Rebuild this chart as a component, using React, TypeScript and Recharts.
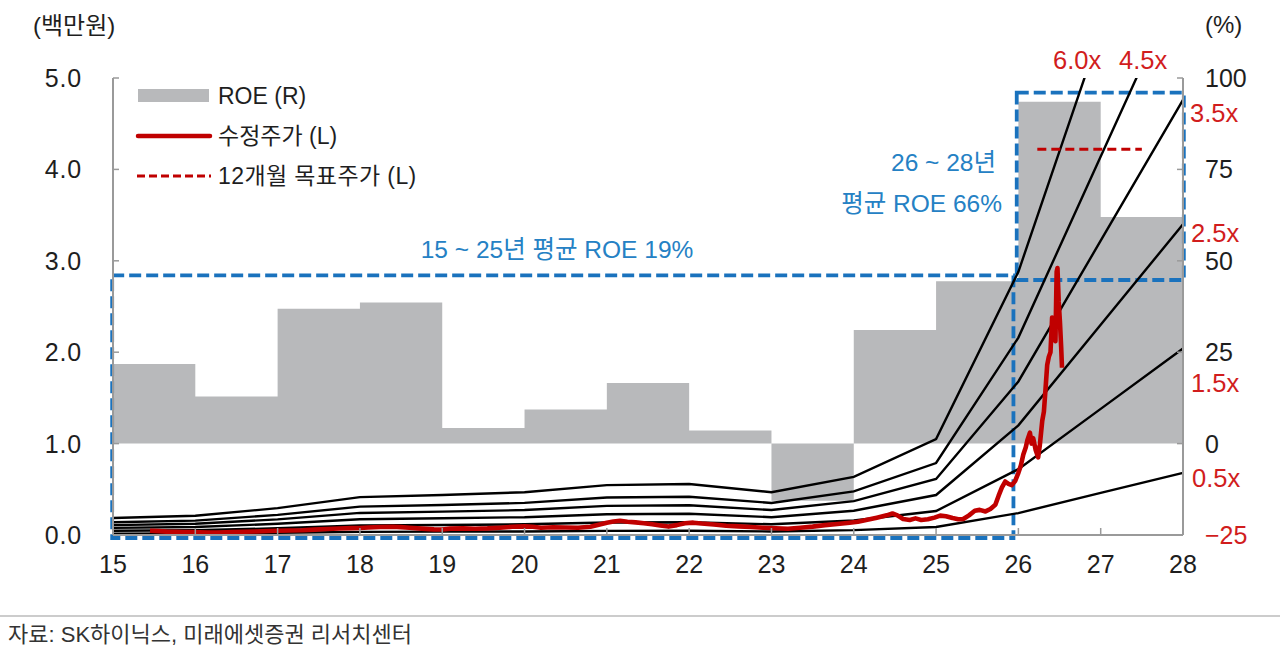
import React from 'react';
import { ComposedChart, Area, Line, XAxis, YAxis, ReferenceArea } from 'recharts';

// ---- data ----
const YEARS = [15, 16, 17, 18, 19, 20, 21, 22, 23, 24, 25, 26, 27, 28];
// ROE (%) per year; the value at 28 closes the 27~28 step
const ROE_PCT = [21.8, 12.9, 36.9, 38.6, 4.3, 9.3, 16.6, 3.6, -15.6, 31.1, 44.4, 93.5, 62.0, 62.0];
// BPS (백만원)
const BPS = [0.031, 0.035, 0.049, 0.069, 0.073, 0.078, 0.091, 0.093, 0.078, 0.106, 0.175, 0.48, 0.92, 1.36];
const PBR_MULTIPLES = [0.5, 1.5, 2.5, 3.5, 4.5, 6.0];
const PBR_LABELS = ['0.5x', '1.5x', '2.5x', '3.5x', '4.5x', '6.0x'];

const PRICE_YEAR = [
  15.45, 15.55, 15.65, 15.75, 15.85, 15.95, 16.05, 16.15, 16.3, 16.45, 16.6, 16.75, 16.9,
  17.0, 17.15, 17.3, 17.45, 17.6, 17.75, 17.9, 18.0, 18.1, 18.25, 18.4, 18.5, 18.6, 18.75, 18.9,
  19.0, 19.1, 19.25, 19.4, 19.55, 19.7, 19.85, 20.0, 20.1, 20.2, 20.35, 20.5, 20.65, 20.8, 20.9,
  21.0, 21.08, 21.16, 21.25, 21.35, 21.45, 21.55, 21.65, 21.75, 21.85, 21.95, 22.05, 22.15, 22.3,
  22.45, 22.6, 22.75, 22.9, 23.05, 23.2, 23.35, 23.5, 23.65, 23.8, 23.95, 24.05, 24.15, 24.28,
  24.4, 24.47, 24.53, 24.6, 24.68, 24.75, 24.82, 24.9, 24.98, 25.05, 25.12, 25.2, 25.27, 25.33,
  25.4, 25.47, 25.53, 25.6, 25.66, 25.72, 25.76, 25.8, 25.84, 25.88, 25.92, 25.96, 26.0, 26.03,
  26.06, 26.09, 26.11, 26.14, 26.16, 26.18, 26.21, 26.24, 26.26, 26.29, 26.31, 26.33, 26.35,
  26.37, 26.39, 26.41, 26.43, 26.45, 26.465, 26.475, 26.49, 26.505, 26.52, 26.53,
];
const PRICE = [
  0.046, 0.042, 0.037, 0.034, 0.032, 0.031, 0.029, 0.027, 0.028, 0.031, 0.036, 0.039, 0.044,
  0.046, 0.049, 0.052, 0.059, 0.066, 0.071, 0.075, 0.077, 0.082, 0.087, 0.09, 0.086, 0.08, 0.07, 0.062,
  0.06, 0.07, 0.072, 0.068, 0.072, 0.08, 0.09, 0.094, 0.09, 0.08, 0.085, 0.082, 0.08, 0.09, 0.112,
  0.135, 0.148, 0.155, 0.145, 0.138, 0.128, 0.118, 0.105, 0.092, 0.108, 0.128, 0.135, 0.125, 0.115,
  0.102, 0.094, 0.088, 0.08, 0.074, 0.068, 0.08, 0.092, 0.108, 0.12, 0.135, 0.145, 0.165, 0.19,
  0.215, 0.235, 0.215, 0.175, 0.165, 0.182, 0.165, 0.172, 0.19, 0.212, 0.205, 0.185, 0.172, 0.175,
  0.215, 0.265, 0.275, 0.258, 0.285, 0.33, 0.43, 0.52, 0.585, 0.56, 0.545, 0.59, 0.68, 0.76,
  0.88, 0.96, 1.04, 1.12, 1.0, 1.06, 0.93, 0.85, 0.98, 1.25, 1.35, 1.6, 1.86,
  1.95, 2.0, 2.38, 2.2, 2.12, 2.88, 2.92, 2.55, 2.33, 2.05, 1.83,
];

const TARGET_YEAR = [26.23, 27.5];
const TARGET = [4.22, 4.22];

const X_TICKS = YEARS;
const LEFT_TICKS = [0, 1, 2, 3, 4, 5];
const RIGHT_TICKS = [-25, 0, 25, 50, 75, 100];

// ---- tables built from the arrays ----
const bandRows = YEARS.map((year, i) => {
  const row: Record<string, number> = { year, roe: ROE_PCT[i] };
  PBR_MULTIPLES.forEach((m, k) => {
    row[`pbr${k}`] = BPS[i] * m;
  });
  return row;
});
const priceRows = PRICE_YEAR.map((year, i) => ({ year, price: PRICE[i] }));
const targetRows = TARGET_YEAR.map((year, i) => ({ year, target: TARGET[i] }));

// ---- styles ----
const FONT = '"Liberation Sans", "Noto Sans CJK KR", sans-serif';
const AXIS_GRAY = '#9a9a9a';
const TEXT = '#1e1e1e';
const RED_LINE = '#c00000';
const RED_TEXT = '#d11d1d';
const BLUE_BOX = '#1a72bd';
const BLUE_TEXT = '#2581c4';
const ROE_GRAY = '#b8b9bb';

const XTick = (props: any) => {
  const { x, y, payload } = props;
  return (
    <g>
      <line x1={x} x2={x} y1={y} y2={y - 7} stroke={AXIS_GRAY} strokeWidth={1.5} />
      <text x={x} y={y + 38} textAnchor="middle" fontSize={25} fill={TEXT} fontFamily={FONT}>
        {payload.value}
      </text>
    </g>
  );
};

const LeftTick = (props: any) => {
  const { x, y, payload } = props;
  return (
    <g>
      <line x1={x} x2={x + 6} y1={y} y2={y} stroke={AXIS_GRAY} strokeWidth={1.5} />
      <text x={x - 31} y={y} dy="0.36em" textAnchor="end" fontSize={25} fill={TEXT} fontFamily={FONT} letterSpacing={0.8}>
        {Number(payload.value).toFixed(1)}
      </text>
    </g>
  );
};

const RightTick = (props: any) => {
  const { x, y, payload } = props;
  const v = Number(payload.value);
  return (
    <g>
      <line x1={x} x2={x - 6} y1={y} y2={y} stroke={AXIS_GRAY} strokeWidth={1.5} />
      <text
        x={x + 22}
        y={y}
        dy="0.36em"
        textAnchor="start"
        fontSize={25}
        fill={v < 0 ? RED_TEXT : TEXT}
        fontFamily={FONT}
      >
        {v < 0 ? `\u2212${Math.abs(v)}` : v}
      </text>
    </g>
  );
};

export default function App() {
  return (
    <div
      style={{
        position: 'absolute',
        left: 0,
        top: 0,
        width: 1280,
        height: 659,
        background: '#fff',
        fontFamily: FONT,
        overflow: 'hidden',
      }}
    >
      <div style={{ position: 'absolute', left: 0, top: 0 }}>
        <ComposedChart
          width={1280}
          height={610}
          data={bandRows}
          margin={{ top: 78, right: 17, bottom: 35, left: 53 }}
        >
          <XAxis
            dataKey="year"
            type="number"
            domain={[15, 28]}
            ticks={X_TICKS}
            interval={0}
            allowDecimals={false}
            height={40}
            axisLine={{ stroke: AXIS_GRAY, strokeWidth: 2 }}
            tickLine={false}
            tickSize={0}
            tickMargin={0}
            tick={<XTick />}
          />
          <YAxis
            yAxisId="left"
            orientation="left"
            domain={[0, 5]}
            ticks={LEFT_TICKS}
            allowDataOverflow
            width={60}
            axisLine={{ stroke: AXIS_GRAY, strokeWidth: 2 }}
            tickLine={false}
            tickSize={0}
            tickMargin={0}
            tick={<LeftTick />}
          />
          <YAxis
            yAxisId="right"
            orientation="right"
            domain={[-25, 100]}
            ticks={RIGHT_TICKS}
            allowDataOverflow
            width={80}
            axisLine={{ stroke: AXIS_GRAY, strokeWidth: 2 }}
            tickLine={false}
            tickSize={0}
            tickMargin={0}
            tick={<RightTick />}
          />
          <Area
            yAxisId="right"
            type="stepAfter"
            dataKey="roe"
            baseValue={0}
            fill={ROE_GRAY}
            fillOpacity={1}
            stroke="none"
            isAnimationActive={false}
            dot={false}
            activeDot={false}
          />
          {PBR_MULTIPLES.map((m, k) => (
            <Line
              key={PBR_LABELS[k]}
              yAxisId="left"
              type="linear"
              dataKey={`pbr${k}`}
              stroke="#000"
              strokeWidth={2.4}
              dot={false}
              activeDot={false}
              isAnimationActive={false}
            />
          ))}
          <Line
            yAxisId="left"
            data={priceRows}
            type="linear"
            dataKey="price"
            stroke={RED_LINE}
            strokeWidth={4.6}
            strokeLinejoin="round"
            dot={false}
            activeDot={false}
            isAnimationActive={false}
          />
          <Line
            yAxisId="left"
            data={targetRows}
            type="linear"
            dataKey="target"
            stroke={RED_LINE}
            strokeWidth={3}
            strokeDasharray="9 5"
            dot={false}
            activeDot={false}
            isAnimationActive={false}
          />
          <ReferenceArea
            yAxisId="left"
            x1={14.99}
            x2={25.94}
            y1={-0.033}
            y2={2.84}
            fill="none"
            fillOpacity={0}
            stroke={BLUE_BOX}
            strokeWidth={3.8}
            strokeDasharray="12 5"
            ifOverflow="visible"
          />
          <ReferenceArea
            yAxisId="left"
            x1={25.98}
            x2={28.01}
            y1={2.79}
            y2={4.84}
            fill="none"
            fillOpacity={0}
            stroke={BLUE_BOX}
            strokeWidth={3.8}
            strokeDasharray="12 5"
            ifOverflow="visible"
          />
        </ComposedChart>
      </div>

      <svg
        width={1280}
        height={659}
        style={{ position: 'absolute', left: 0, top: 0, pointerEvents: 'none' }}
        fontFamily={FONT}
      >
        <text x={33} y={25} dy="0.36em" fontSize={24} fill={TEXT}>(백만원)</text>
        <text x={1205} y={24} dy="0.36em" fontSize={24} fill={TEXT}>(%)</text>

        {/* legend */}
        <rect x={138} y={89} width={71} height={13} fill={ROE_GRAY} />
        <text x={218} y={96} dy="0.36em" fontSize={23} fill={TEXT}>ROE (R)</text>
        <line x1={138} x2={210} y1={136} y2={136} stroke={RED_LINE} strokeWidth={4.5} strokeLinecap="round" />
        <text x={218} y={136} dy="0.36em" fontSize={23} fill={TEXT}>수정주가 (L)</text>
        <line x1={137} x2={211} y1={176} y2={176} stroke={RED_LINE} strokeWidth={3} strokeDasharray="8 4" />
        <text x={218} y={176} dy="0.36em" fontSize={23} fill={TEXT} letterSpacing={0.4}>12개월 목표주가 (L)</text>

        {/* annotations */}
        <text x={557} y={249} dy="0.36em" textAnchor="middle" fontSize={24.5} fill={BLUE_TEXT}>
          15 ~ 25년 평균 ROE 19%
        </text>
        <text x={996} y={162} dy="0.36em" textAnchor="end" fontSize={24.5} fill={BLUE_TEXT}>26 ~ 28년</text>
        <text x={1002} y={203} dy="0.36em" textAnchor="end" fontSize={24.5} fill={BLUE_TEXT}>평균 ROE 66%</text>

        {/* PBR band labels */}
        <text x={1053} y={60} dy="0.36em" fontSize={25.5} fill={RED_TEXT}>{PBR_LABELS[5]}</text>
        <text x={1119} y={60} dy="0.36em" fontSize={25.5} fill={RED_TEXT}>{PBR_LABELS[4]}</text>
        <text x={1190} y={113} dy="0.36em" fontSize={25.5} fill={RED_TEXT}>{PBR_LABELS[3]}</text>
        <text x={1191} y={233} dy="0.36em" fontSize={25.5} fill={RED_TEXT}>{PBR_LABELS[2]}</text>
        <text x={1191} y={383} dy="0.36em" fontSize={25.5} fill={RED_TEXT}>{PBR_LABELS[1]}</text>
        <text x={1192} y={478} dy="0.36em" fontSize={25.5} fill={RED_TEXT}>{PBR_LABELS[0]}</text>

        {/* footer */}
        <line x1={0} x2={1280} y1={616} y2={616} stroke="#9a9a9a" strokeWidth={1.2} />
        <text x={8} y={634} dy="0.36em" fontSize={22} fill="#333">자료: SK하이닉스, 미래에셋증권 리서치센터</text>
      </svg>
    </div>
  );
}
